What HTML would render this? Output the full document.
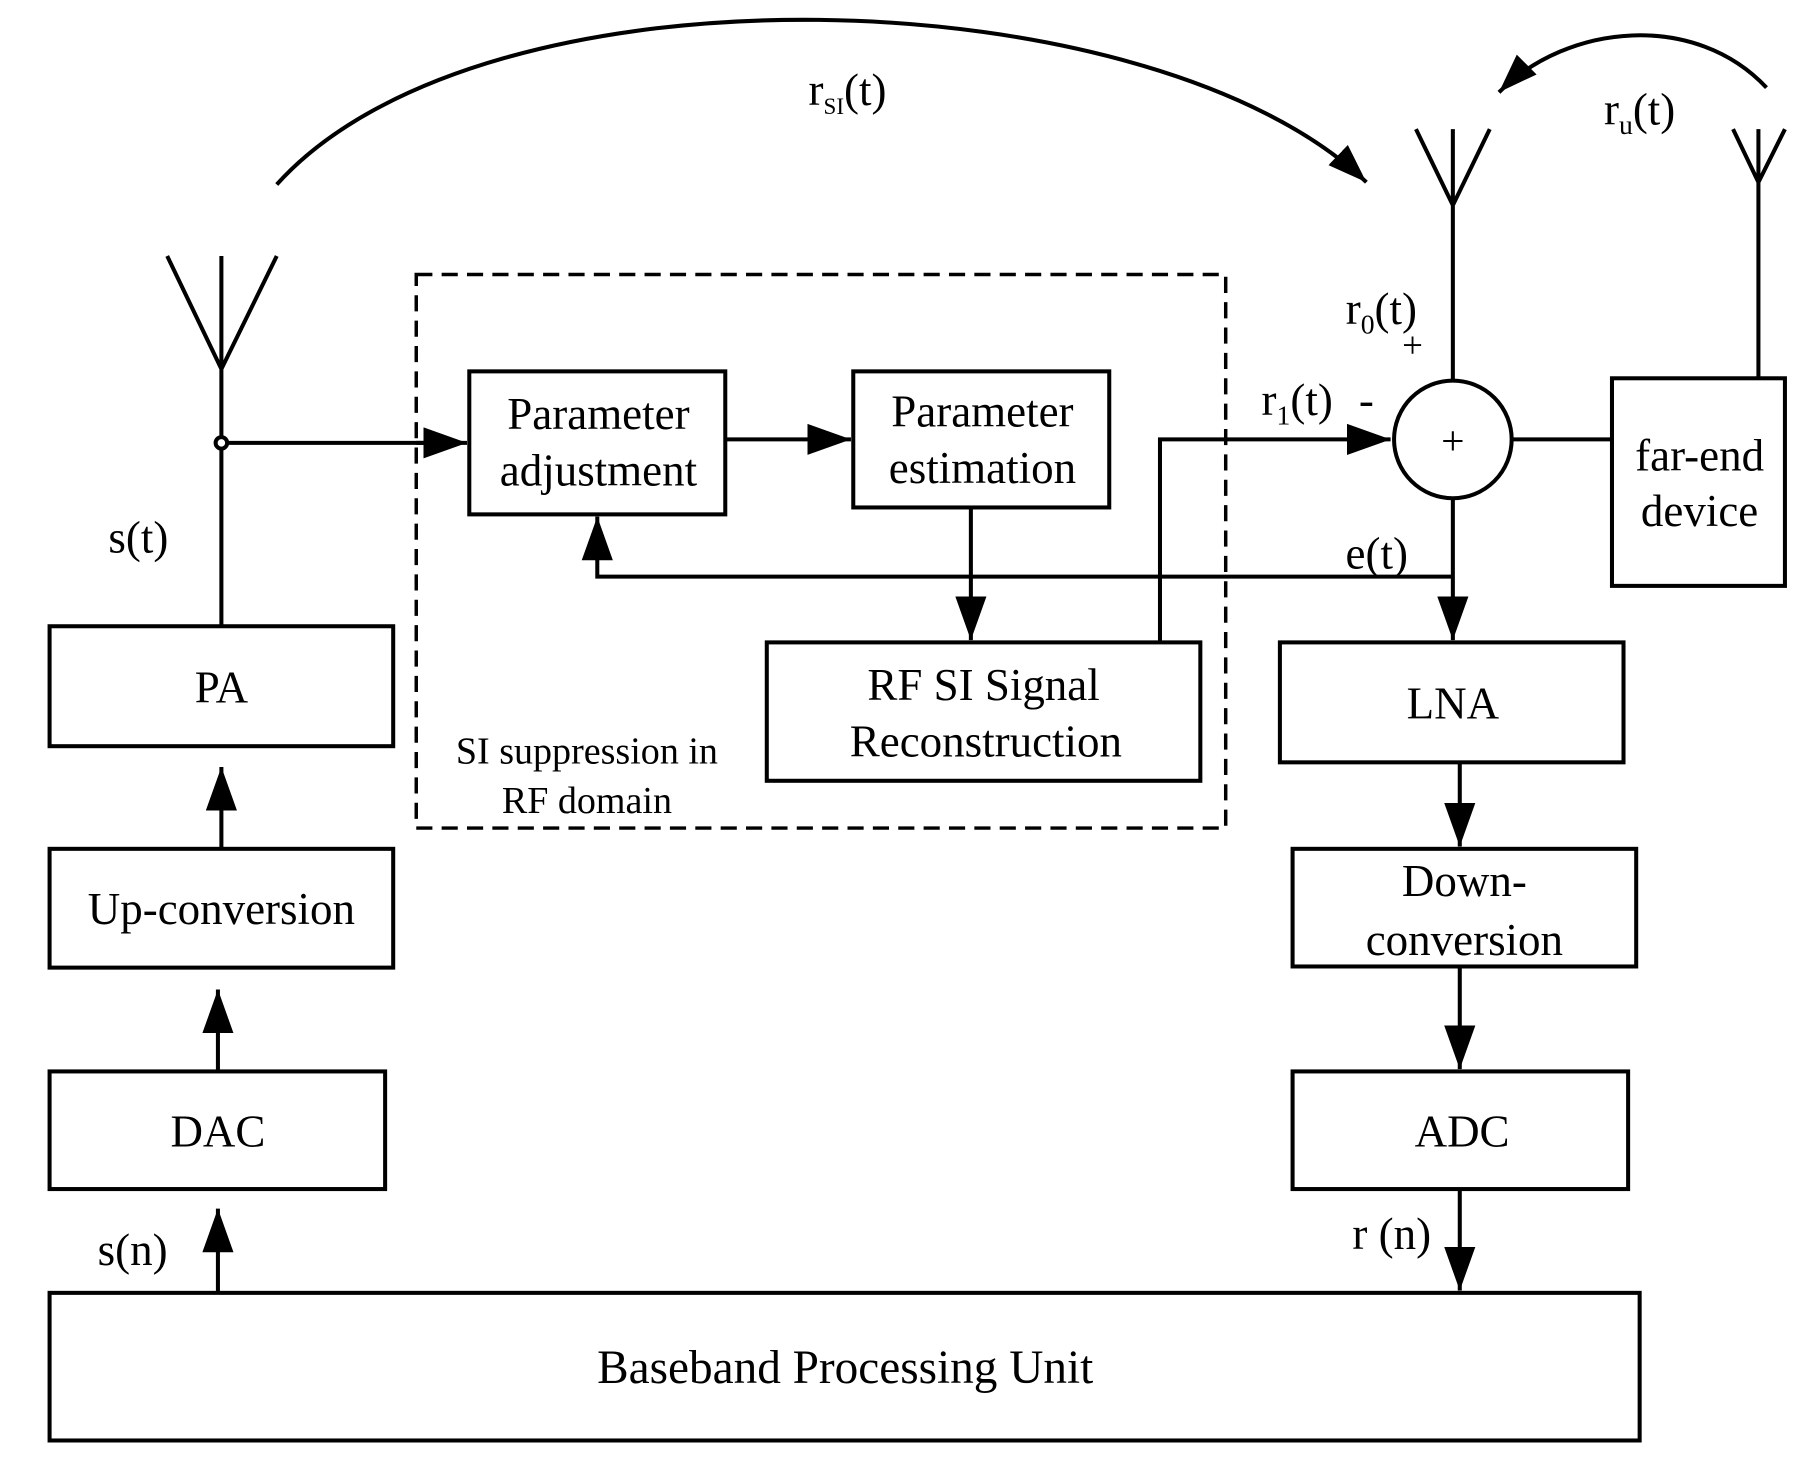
<!DOCTYPE html>
<html><head><meta charset="utf-8"><style>html,body{margin:0;padding:0;background:#fff}svg{display:block}</style></head>
<body>
<svg width="1808" height="1482" viewBox="0 0 1568 1285" preserveAspectRatio="none" xmlns="http://www.w3.org/2000/svg" font-family="Liberation Serif, serif" fill="none" stroke="#000">
<defs><marker id="b" viewBox="0 0 14 10" refX="14" refY="5" markerWidth="34" markerHeight="26" orient="auto" markerUnits="userSpaceOnUse"><path d="M0,0L14,5L0,10z" fill="#000" stroke="none"/></marker>
<marker id="c" viewBox="0 0 14 10" refX="14" refY="5" markerWidth="38" markerHeight="27" orient="auto" markerUnits="userSpaceOnUse"><path d="M0,0L14,5L0,10z" fill="#000" stroke="none"/></marker></defs>
<g stroke-width="3.5">
<rect x="43" y="543" width="298" height="104"/>
<rect x="43" y="736" width="298" height="103"/>
<rect x="43" y="929" width="291" height="102"/>
<rect x="43" y="1121" width="1379" height="128"/>
<rect x="407" y="322" width="222" height="124"/>
<rect x="740" y="322" width="222" height="118"/>
<rect x="665" y="557" width="376" height="120"/>
<rect x="1110" y="557" width="298" height="104"/>
<rect x="1121" y="736" width="298" height="102"/>
<rect x="1121" y="929" width="291" height="102"/>
<rect x="1398" y="328" width="150" height="180"/>
<circle cx="1260" cy="381" r="51"/>
<rect x="361" y="238" width="702" height="480" stroke-dasharray="14,8" stroke-width="3"/>
</g>
<g stroke-width="3.5">
<path d="M145,222L192,320L240,222M192,222V543"/>
<path d="M1228,112L1260,178L1292,112M1260,112V330"/>
<path d="M1503,112L1525,158L1548,112M1525,112V328"/>
<path d="M1311,381H1398"/>
<circle cx="192" cy="384" r="5" fill="#fff"/>
<path d="M197,384H370" />
<path d="M361,384H405" marker-end="url(#c)"/>
<path d="M629,381H738" marker-end="url(#c)"/>
<path d="M842,440V555" marker-end="url(#c)"/>
<path d="M1006,557V381H1206" marker-end="url(#c)"/>
<path d="M1260,432V555" marker-end="url(#c)"/>
<path d="M1260,500H518V448" marker-end="url(#c)"/>
<path d="M1266,661V734" marker-end="url(#c)"/>
<path d="M1266,838V927" marker-end="url(#c)"/>
<path d="M1266,1031V1119" marker-end="url(#c)"/>
<path d="M192,736V665" marker-end="url(#c)"/>
<path d="M189,929V858" marker-end="url(#c)"/>
<path d="M189,1121V1048" marker-end="url(#c)"/>
<path d="M240,160C420,-40,1000,-20,1185,158" marker-end="url(#b)"/>
<path d="M1532,76C1470,10,1360,20,1300,80" marker-end="url(#b)"/>
</g>
<g fill="#000" stroke="none" font-size="39" text-anchor="middle">
<text x="192" y="609">PA</text>
<text x="192" y="801">Up-conversion</text>
<text x="189" y="994">DAC</text>
<text x="733" y="1199" font-size="41">Baseband  Processing Unit</text>
<text x="519" y="372">Parameter</text><text x="519" y="421">adjustment</text>
<text x="852" y="370">Parameter</text><text x="852" y="419">estimation</text>
<text x="853" y="607">RF SI Signal</text><text x="855" y="656">Reconstruction</text>
<text x="1260" y="623">LNA</text>
<text x="1270" y="777">Down-</text><text x="1270" y="828">conversion</text>
<text x="1268" y="994">ADC</text>
<text x="1474" y="408">far-end</text><text x="1474" y="456">device</text>
<text x="1260" y="394" font-size="36">+</text>
<text x="509" y="662" font-size="33">SI suppression in</text><text x="509" y="705" font-size="33">RF domain</text>
<text x="120" y="479">s(t)</text>
<text x="115" y="1097">s(n)</text>
<text x="1207" y="1083">r (n)</text>
<text x="1194" y="493">e(t)</text>
<text x="1125" y="360">r<tspan font-size="24" dy="8">1</tspan><tspan dy="-8">(t)</tspan></text>
<text x="1185" y="360">-</text>
<text x="1198" y="281">r<tspan font-size="24" dy="8">0</tspan><tspan dy="-8">(t)</tspan></text>
<text x="1225" y="310" font-size="32">+</text>
<text x="735" y="91">r<tspan font-size="20" dy="8">SI</tspan><tspan dy="-8">(t)</tspan></text>
<text x="1422" y="108">r<tspan font-size="24" dy="8">u</tspan><tspan dy="-8">(t)</tspan></text>
</g>
</svg>
</body></html>
